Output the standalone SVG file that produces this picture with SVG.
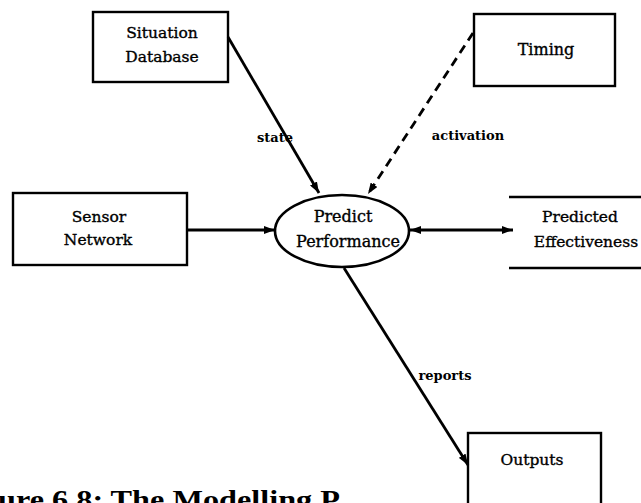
<svg xmlns="http://www.w3.org/2000/svg" width="641" height="503" viewBox="0 0 641 503">
<style>
.box{fill:#fff;stroke:#000;stroke-width:2.4}
.t{font-family:"DejaVu Serif","Liberation Serif",serif;font-size:15.5px;fill:#000;stroke:#000;stroke-width:0.35;text-anchor:middle}
.e{font-size:16px}
.lbl{font-family:"DejaVu Serif","Liberation Serif",serif;font-size:13px;font-weight:bold;fill:#000;text-anchor:middle}
.ln{stroke:#000;stroke-width:2.8;fill:none}
.dash{stroke-dasharray:9 6}
.cap{font-family:"Liberation Serif","Times New Roman",serif;font-size:28px;font-weight:bold;fill:#000}
</style>
<defs>
<marker id="ah" viewBox="0 0 11 8" refX="11" refY="4" markerWidth="11" markerHeight="8" markerUnits="userSpaceOnUse" orient="auto-start-reverse">
<path d="M0,0 L11,4 L0,8 Z" fill="#000"/>
</marker>
</defs>
<rect width="641" height="503" fill="#fff"/>
<g id="situation-database">
<rect class="box" x="93" y="12" width="135" height="70"/>
<text class="t" x="162" y="38">Situation</text>
<text class="t" x="162" y="62">Database</text>
</g>
<g id="timing">
<rect class="box" x="474" y="14" width="141" height="72"/>
<text class="t" x="546" y="55" style="font-size:16px">Timing</text>
</g>
<g id="sensor-network">
<rect class="box" x="13" y="193" width="174" height="72"/>
<text class="t" x="99" y="222">Sensor</text>
<text class="t" x="98" y="245">Network</text>
</g>
<g id="predict-performance">
<ellipse cx="342" cy="231" rx="67" ry="36" fill="#fff" stroke="#000" stroke-width="2.6"/>
<text class="t e" x="343" y="222">Predict</text>
<text class="t e" x="348" y="247">Performance</text>
</g>
<g id="predicted-effectiveness">
<line x1="509" y1="197" x2="641" y2="197" stroke="#000" stroke-width="2.4"/>
<line x1="509" y1="268" x2="641" y2="268" stroke="#000" stroke-width="2.4"/>
<text class="t" x="580" y="222">Predicted</text>
<text class="t" x="586" y="247">Effectiveness</text>
</g>
<g id="outputs">
<rect class="box" x="468" y="433" width="133" height="80"/>
<text class="t" x="532" y="465">Outputs</text>
</g>
<g id="connectors">
<line class="ln" x1="228" y1="37" x2="319" y2="193" marker-end="url(#ah)"/>
<line class="ln dash" x1="473" y1="33" x2="368" y2="194" marker-end="url(#ah)"/>
<line class="ln" x1="187" y1="230" x2="275" y2="230" marker-end="url(#ah)"/>
<line class="ln" x1="410" y1="230" x2="513" y2="230" marker-start="url(#ah)" marker-end="url(#ah)"/>
<line class="ln" x1="344" y1="268" x2="468" y2="465" marker-end="url(#ah)"/>
<text class="lbl" x="275" y="142">state</text>
<text class="lbl" x="468" y="140">activation</text>
<text class="lbl" x="445" y="380">reports</text>
</g>
<text class="cap" x="-2" y="509" textLength="342" lengthAdjust="spacingAndGlyphs">ure 6.8: The Modelling P</text>
</svg>
